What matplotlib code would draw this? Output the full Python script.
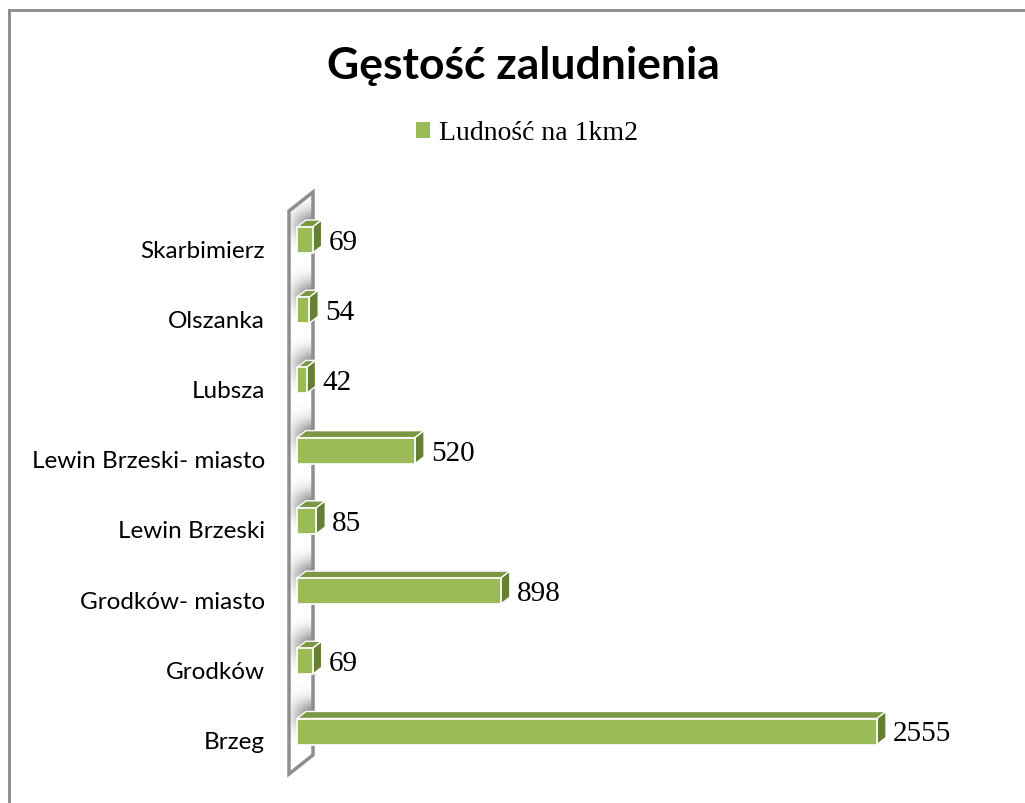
import numpy as np
import matplotlib
matplotlib.use("Agg")
import matplotlib.pyplot as plt
from matplotlib.patches import Polygon, Patch
from matplotlib.lines import Line2D
from matplotlib.transforms import ScaledTranslation

# ---------------- data ----------------
categories = ["Brzeg", "Grodków", "Grodków- miasto", "Lewin Brzeski",
              "Lewin Brzeski- miasto", "Lubsza", "Olszanka", "Skarbimierz"]
values = [2555, 69, 898, 85, 520, 42, 54, 69]
series_name = "Ludność na 1km2"
title = "Gęstość zaludnienia"

# ---------------- style ----------------
W, H, DPI = 1025, 804, 100
FRONT = "#9BBB59"
TOP = "#7B9744"
SIDE = "#657F35"
WALL = "#8E8E8E"

fig = plt.figure(figsize=(W / DPI, H / DPI), dpi=DPI)
fig.patch.set_facecolor("white")

# axes placement in pixels
ax_l, ax_r, ax_t, ax_b = 280, 1000, 180, 790
ax = fig.add_axes([ax_l / W, 1 - ax_b / H, (ax_r - ax_l) / W, (ax_b - ax_t) / H])
ax.set_facecolor("none")

# x scale: value 0 at px 297, 2555 at px 877
px_per_unit = (877 - 297) / 2555.0
x0 = -(297 - ax_l) / px_per_unit
x1 = x0 + (ax_r - ax_l) / px_per_unit
ax.set_xlim(x0, x1)
# y scale: category 0 at px 732.5, category 7 at px 241
px_per_cat = (732.5 - 241) / 7.0
y0 = -(ax_b - 732.5) / px_per_cat
y1 = 7 + (241 - ax_t) / px_per_cat
ax.set_ylim(y0, y1)

for s in ax.spines.values():
    s.set_visible(False)
ax.set_xticks([])

# depth offsets in data units
dx = 9 / px_per_unit
dy = 7 / px_per_cat
bh = 26 / px_per_cat

# back wall (parallelogram)
wl = -(297 - 289) / px_per_unit
wr = wl + 24 / px_per_unit
wb = 0 - (775 - 732.5) / px_per_cat
wt = 7 + (241 - 212) / px_per_cat
wdy = 19 / px_per_cat
wall_pts = [(wl, wb), (wl, wt), (wr, wt + wdy), (wr, wb + wdy)]
# soft shadows on the wall behind bars
yy = np.linspace(wb, wt + wdy, 400)
xx = np.linspace(wl, wr, 40)
img = np.zeros((len(yy), len(xx)))
for i in range(len(categories)):
    img = np.maximum(img, np.exp(-((yy[:, None] - (i + 0.22)) / 0.22) ** 2)
                     * np.clip((xx[None, :] - wl) / (wr - wl), 0, 1) ** 0.7 * 0.5)
im = ax.imshow(1 - img, extent=(wl, wr, wb, wt + wdy), origin="lower",
               cmap="gray", vmin=0, vmax=1, aspect="auto", zorder=1,
               interpolation="bilinear")
wall = Polygon(wall_pts, closed=True, facecolor="none", edgecolor=WALL,
               lw=2.5, zorder=2, joinstyle="miter")
ax.add_patch(wall)
im.set_clip_path(wall)

ypos = np.arange(len(categories))
ax.barh(ypos, values, height=bh, left=0, color=FRONT, edgecolor="white",
        linewidth=1.2, zorder=4)
for y, v in zip(ypos, values):
    top = [(0, y + bh / 2), (v, y + bh / 2), (v + dx, y + bh / 2 + dy),
           (dx, y + bh / 2 + dy)]
    side = [(v, y - bh / 2), (v, y + bh / 2), (v + dx, y + bh / 2 + dy),
            (v + dx, y - bh / 2 + dy)]
    ax.add_patch(Polygon(top, closed=True, facecolor=TOP, edgecolor="white",
                         lw=1.0, zorder=3))
    ax.add_patch(Polygon(side, closed=True, facecolor=SIDE, edgecolor="white",
                         lw=1.0, zorder=3))
    ax.text(v + dx + 7 / px_per_unit, y - 2 / px_per_cat, f"{v}",
            ha="left", va="center", fontsize=21,
            family="Liberation Serif", color="black", zorder=5)

ax.set_yticks(ypos)
ax.set_yticklabels(categories, family="Lato", fontsize=17.5)
ax.tick_params(axis="y", length=0, pad=15 * 72 / DPI)
for lbl in ax.get_yticklabels():
    lbl.set_transform(lbl.get_transform() +
                      ScaledTranslation(0, -8 / DPI, fig.dpi_scale_trans))

# title & legend
fig.text(523 / W, 1 - 66 / H, title, ha="center", va="center",
         fontsize=32, fontweight="bold", family="Lato")
leg = fig.legend(handles=[Patch(facecolor=FRONT, edgecolor="none", label=series_name)],
                 loc="center", bbox_to_anchor=(527 / W, 1 - 134 / H),
                 frameon=False, handlelength=0.5, handleheight=0.5,
                 handletextpad=0.35,
                 prop={"family": "Liberation Serif", "size": 20})

# chart border (left and top visible)
fig.add_artist(Line2D([8.5 / W, 8.5 / W], [0, 1 - 11 / H], transform=fig.transFigure,
                      color="#8A8A8A", lw=2))
fig.add_artist(Line2D([8.5 / W, 1], [1 - 11 / H, 1 - 11 / H], transform=fig.transFigure,
                      color="#8A8A8A", lw=2))

fig.savefig("out.png", dpi=DPI)
